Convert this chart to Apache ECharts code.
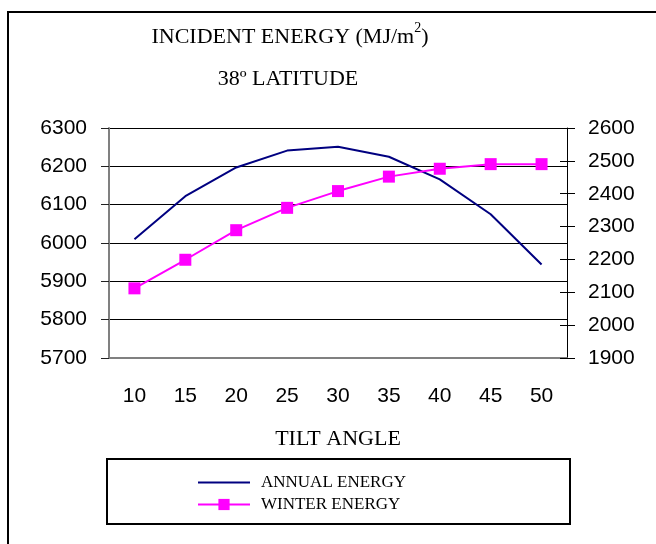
<!DOCTYPE html>
<html lang="en">
<head>
    <meta charset="UTF-8" />
    <title>Incident energy</title>
    <script src="https://cdn.jsdelivr.net/npm/echarts@6/dist/echarts.min.js"></script>
    <style>
        body { margin: 0; background: #fff; }
    </style>
</head>
<body>
<div id="main" style="width: 656px;height:544px;"></div>
<script type="text/javascript">
    // data
    var tiltAngles = ['10', '15', '20', '25', '30', '35', '40', '45', '50'];
    var annualEnergy = [6010, 6122, 6197, 6241, 6251, 6225, 6166, 6075, 5944];
    var winterEnergy = [2112, 2199, 2289, 2357, 2408, 2452, 2476, 2490, 2490];

    var sans = 'Liberation Sans, Arial, sans-serif';
    var serif = 'Liberation Serif, Times New Roman, serif';

    // plain numbers, no thousands separator
    function plain(v) { return String(v); }

    var myChart = echarts.init(document.getElementById('main'));
    var option = {
        animation: false,
        backgroundColor: '#fff',
        graphic: [
            // outer frame, runs off the right and bottom edges
            {
                type: 'rect',
                shape: { x: 8, y: 12, width: 700, height: 600 },
                style: { fill: 'none', stroke: '#000', lineWidth: 2 }
            },
            {
                type: 'text',
                x: 290,
                y: 37,
                style: {
                    text: '{a|INCIDENT ENERGY (MJ/m}{s|2}{a|)}',
                    align: 'center',
                    verticalAlign: 'middle',
                    fill: '#000',
                    rich: {
                        a: { fontFamily: serif, fontSize: 22, color: '#000' },
                        s: { fontFamily: serif, fontSize: 14, color: '#000', padding: [0, 0, 18, 0] }
                    }
                }
            },
            {
                type: 'text',
                x: 288,
                y: 79,
                style: {
                    text: '38º LATITUDE',
                    align: 'center',
                    verticalAlign: 'middle',
                    fill: '#000',
                    fontFamily: serif,
                    fontSize: 22
                }
            },
            // legend box
            {
                type: 'rect',
                shape: { x: 107, y: 459, width: 463, height: 65 },
                style: { fill: 'none', stroke: '#000', lineWidth: 2 }
            }
        ],
        legend: {
            orient: 'vertical',
            left: 197,
            top: 474,
            padding: 0,
            itemWidth: 52,
            itemHeight: 14,
            itemGap: 5,
            textStyle: {
                fontFamily: serif,
                fontSize: 17,
                color: '#000',
                padding: [0, 0, 0, 6]
            },
            data: [
                { name: 'ANNUAL ENERGY', itemStyle: { color: 'rgba(0,0,0,0)', borderWidth: 0 } },
                { name: 'WINTER ENERGY' }
            ]
        },
        grid: {
            left: 109,
            right: 89,
            top: 128,
            bottom: 186
        },
        xAxis: {
            type: 'category',
            data: tiltAngles,
            boundaryGap: true,
            name: 'TILT ANGLE',
            nameLocation: 'middle',
            nameGap: 70,
            nameTextStyle: { fontFamily: serif, fontSize: 22, color: '#000' },
            axisLine: { lineStyle: { color: '#808080', width: 2 } },
            axisTick: { interval: 0, length: 6, lineStyle: { color: '#808080' } },
            axisLabel: { interval: 0, margin: 28, fontFamily: sans, fontSize: 21, color: '#000' },
            splitLine: { show: false }
        },
        yAxis: [
            {
                type: 'value',
                position: 'left',
                min: 5700,
                max: 6300,
                interval: 100,
                axisLine: { show: true, lineStyle: { color: '#808080', width: 2 } },
                axisTick: { show: true, length: 8, lineStyle: { color: '#222' } },
                axisLabel: { margin: 22, fontFamily: sans, fontSize: 21, color: '#000', formatter: plain },
                splitLine: { show: true, lineStyle: { color: '#000', width: 1 } }
            },
            {
                type: 'value',
                position: 'right',
                min: 1900,
                max: 2600,
                interval: 100,
                axisLine: { show: true, lineStyle: { color: '#000', width: 1 } },
                axisTick: { show: true, length: 8, lineStyle: { color: '#000' } },
                axisLabel: { margin: 21, fontFamily: sans, fontSize: 21, color: '#000', formatter: plain },
                splitLine: { show: false }
            },
            {
                // inner half of the crossing ticks on the right axis
                type: 'value',
                position: 'right',
                min: 1900,
                max: 2600,
                interval: 100,
                axisLine: { show: false },
                axisTick: { show: true, inside: true, length: 7, lineStyle: { color: '#000' } },
                axisLabel: { show: false },
                splitLine: { show: false }
            }
        ],
        series: [
            {
                name: 'ANNUAL ENERGY',
                type: 'line',
                yAxisIndex: 0,
                data: annualEnergy,
                symbol: 'none',
                color: '#000080',
                lineStyle: { color: '#000080', width: 2 }
            },
            {
                name: 'WINTER ENERGY',
                type: 'line',
                yAxisIndex: 1,
                data: winterEnergy,
                symbol: 'rect',
                symbolSize: 12,
                color: '#ff00ff',
                itemStyle: { color: '#ff00ff' },
                lineStyle: { color: '#ff00ff', width: 2 }
            }
        ]
    };
    myChart.setOption(option);
</script>
</body>
</html>
